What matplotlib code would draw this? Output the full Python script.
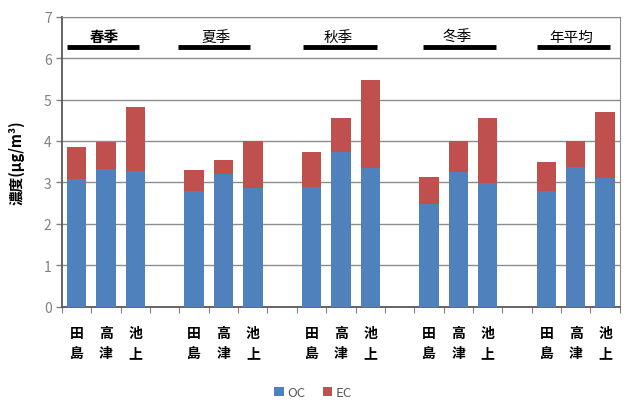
import matplotlib
matplotlib.use("Agg")
import matplotlib.pyplot as plt
import numpy as np

plt.rcParams['font.family'] = ['Noto Sans CJK JP', 'DejaVu Sans']

seasons = ["春季", "夏季", "秋季", "冬季", "年平均"]
sites = ["田\n島", "高\n津", "池\n上"]
oc = [
    [3.08, 3.33, 3.27],
    [2.79, 3.20, 2.86],
    [2.88, 3.73, 3.34],
    [2.48, 3.25, 2.98],
    [2.80, 3.37, 3.11],
]
ec = [
    [0.77, 0.64, 1.55],
    [0.50, 0.34, 1.14],
    [0.85, 0.83, 2.14],
    [0.65, 0.74, 1.57],
    [0.69, 0.64, 1.59],
]

blue = "#4F81BD"
red = "#C0504D"

fig = plt.figure(figsize=(6.37, 4.10), dpi=100)
ax = fig.add_axes([0.0973, 0.2495, 0.8757, 0.7075])

x_pos, oc_vals, ec_vals, labels = [], [], [], []
for g in range(len(seasons)):
    for s in range(len(sites)):
        x_pos.append(g * 4 + s)
        oc_vals.append(oc[g][s])
        ec_vals.append(ec[g][s])
        labels.append(sites[s])

w = 0.66
ax.bar(x_pos, oc_vals, width=w, color=blue, label="OC", zorder=3)
ax.bar(x_pos, ec_vals, bottom=oc_vals, width=w, color=red, label="EC", zorder=3)

ax.set_xlim(-0.5, 18.5)
ax.set_ylim(0, 7)
ax.set_yticks(range(0, 8))
ax.tick_params(axis='y', colors="#808080", labelsize=10, length=4, width=1)
ax.yaxis.grid(True, color="#8c8c8c", linewidth=1, zorder=0)

ax.set_xticks(x_pos)
ax.set_xticklabels(labels, fontsize=10, fontweight='bold', linespacing=1.55)
ax.tick_params(axis='x', length=0, pad=14)
ax.set_xticks(np.arange(-0.5, 19, 1), minor=True)
ax.tick_params(axis='x', which='minor', length=4, color="#808080", width=0.8)

for side in ["top", "right"]:
    ax.spines[side].set_color("#8c8c8c")
ax.spines["left"].set_color("#595959")
ax.spines["bottom"].set_color("#595959")
ax.spines["left"].set_linewidth(1.3)
ax.spines["bottom"].set_linewidth(1.3)

ax.set_ylabel("濃度(μg/m³)", fontsize=10.5, fontweight='bold', labelpad=14)

# season headers: underline bar with the season name above it
line_start = [-0.33, -0.55, -0.29, -0.19, -0.33]
line_end = [2.12, 1.92, 2.22, 2.29, 2.16]
label_x = [0.96, 0.76, 0.90, 0.96, 0.84]
for g, name in enumerate(seasons):
    base = g * 4
    ax.plot([base + line_start[g], base + line_end[g]], [6.27, 6.27], color="black",
            linewidth=3.5, solid_capstyle='butt', zorder=4)
    ax.text(base + label_x[g], 6.34, name, ha='center', va='bottom', fontsize=10.5,
            fontweight='bold' if g == 0 else 'normal', zorder=4)

leg = fig.legend(loc='center', bbox_to_anchor=(0.492, 0.04), ncol=2, frameon=False,
                 fontsize=9.5, handlelength=0.7, handleheight=0.7, handletextpad=0.3,
                 columnspacing=1.3)
for t in leg.get_texts():
    t.set_color("#595959")

fig.savefig("out.png", dpi=100)
